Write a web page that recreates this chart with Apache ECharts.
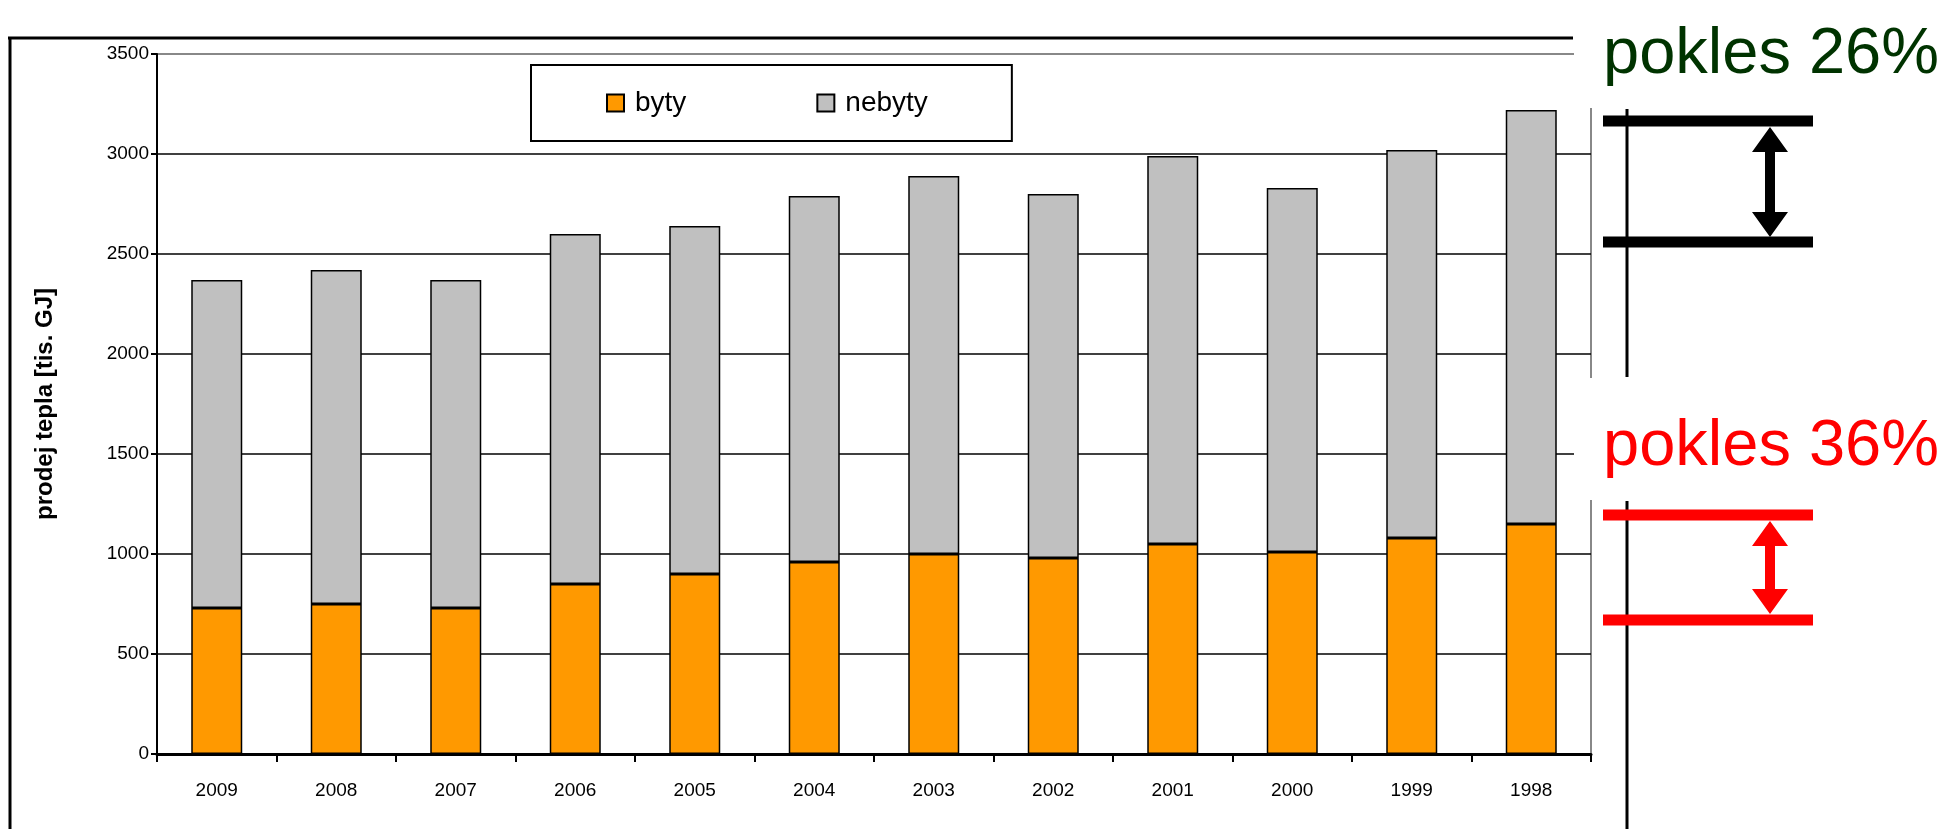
<!DOCTYPE html>
<html>
<head>
<meta charset="utf-8">
<script src="https://cdn.jsdelivr.net/npm/echarts@6/dist/echarts.min.js"></script>
<style>
html,body{margin:0;padding:0;background:#fff;}
#chart{width:1937px;height:829px;}
</style>
</head>
<body>
<div id="chart"></div>
<script>
var categories = ['2009','2008','2007','2006','2005','2004','2003','2002','2001','2000','1999','1998'];
var byty   = [730, 750, 730, 850, 900, 960, 1000, 980, 1050, 1010, 1080, 1150];
var nebyty = [1640, 1670, 1640, 1750, 1740, 1830, 1890, 1820, 1940, 1820, 1940, 2070];
var seriesNames = ['byty', 'nebyty'];
var yTicks = [0, 500, 1000, 1500, 2000, 2500, 3000, 3500];
var annotationTexts = ['pokles 26%', 'pokles 36%'];

var FONT = 'Liberation Sans, Arial, sans-serif';
var chart = echarts.init(document.getElementById('chart'), null, {renderer: 'canvas'});

function arrow(x, yTop, yBot, color) {
  var hw = 18, hl = 25, sw = 5;
  return {
    type: 'polygon', z: 110,
    shape: {points: [
      [x, yTop], [x + hw, yTop + hl], [x + sw, yTop + hl], [x + sw, yBot - hl],
      [x + hw, yBot - hl], [x, yBot], [x - hw, yBot - hl], [x - sw, yBot - hl],
      [x - sw, yTop + hl], [x - hw, yTop + hl]
    ]},
    style: {fill: color}
  };
}
function hline(x1, x2, y, color, w) {
  return {type: 'line', z: 110, shape: {x1: x1, y1: y, x2: x2, y2: y}, style: {stroke: color, lineWidth: w}};
}
function vline(x, y1, y2, color, w) {
  return {type: 'line', z: 110, shape: {x1: x, y1: y1, x2: x, y2: y2}, style: {stroke: color, lineWidth: w}};
}
function label(text, y, color) {
  return {type: 'text', z: 110, x: 1603, y: y,
    style: {text: text, x: 0, y: 0, verticalAlign: 'middle', align: 'left', fill: color, font: '65px ' + FONT}};
}

var option = {
  backgroundColor: '#fff',
  animation: false,
  grid: {left: 157, right: 346, top: 54, bottom: 75, show: true, borderColor: '#888', borderWidth: 2, backgroundColor: 'transparent'},
  legend: {
    data: seriesNames,
    left: 531, top: 65,
    padding: [24, 84, 24, 75],
    itemGap: 130,
    itemWidth: 17, itemHeight: 17,
    icon: 'rect',
    borderColor: '#000', borderWidth: 2,
    textStyle: {fontFamily: FONT, fontSize: 28, color: '#000', padding: [0, 0, 0, 6]}
  },
  xAxis: {
    type: 'category',
    data: categories,
    axisLine: {lineStyle: {color: '#000', width: 3}},
    axisTick: {show: true, length: 8, lineStyle: {color: '#000', width: 2}},
    axisLabel: {fontFamily: FONT, fontSize: 19, color: '#000', margin: 27}
  },
  yAxis: {
    type: 'value',
    min: 0, max: 3500, interval: 500,
    name: 'prodej tepla [tis. GJ]',
    nameLocation: 'middle', nameRotate: 90, nameGap: 100,
    nameTextStyle: {fontFamily: FONT, fontSize: 24, fontWeight: 'bold', color: '#000'},
    axisLine: {show: true, lineStyle: {color: '#000', width: 2}},
    axisTick: {show: true, length: 6, lineStyle: {color: '#000', width: 2}},
    axisLabel: {fontFamily: FONT, fontSize: 19, color: '#000', margin: 8,
      formatter: function (v) { return yTicks.indexOf(v) >= 0 ? String(v) : ''; }},
    splitLine: {show: true, lineStyle: {color: ['#000','#000','#000','#000','#000','#000','#000','#888'], width: 1.5}}
  },
  series: [
    {name: seriesNames[0], type: 'bar', stack: 'total', data: byty, barWidth: 51,
     itemStyle: {color: '#FF9900', borderColor: '#000', borderWidth: 1.5}},
    {name: seriesNames[1], type: 'bar', stack: 'total', data: nebyty, barWidth: 51,
     itemStyle: {color: '#C0C0C0', borderColor: '#000', borderWidth: 1.5}}
  ],
  graphic: [
    hline(8, 1573, 38, '#000', 3),
    vline(10, 37, 829, '#000', 3),
    {type: 'rect', z: 105, shape: {x: 1574, y: 40, width: 30, height: 68}, style: {fill: '#fff'}},
    {type: 'rect', z: 105, shape: {x: 1574, y: 378, width: 30, height: 122}, style: {fill: '#fff'}},
    vline(1627, 109, 377, '#000', 3),
    vline(1627, 501, 829, '#000', 3),
    label(annotationTexts[0], 55, '#003300'),
    hline(1603, 1813, 121, '#000', 11),
    hline(1603, 1813, 242, '#000', 11),
    arrow(1770, 127, 237, '#000'),
    label(annotationTexts[1], 447, '#FF0000'),
    hline(1603, 1813, 515, '#FF0000', 11),
    hline(1603, 1813, 620, '#FF0000', 11),
    arrow(1770, 521, 614, '#FF0000')
  ]
};
chart.setOption(option);
</script>
</body>
</html>
